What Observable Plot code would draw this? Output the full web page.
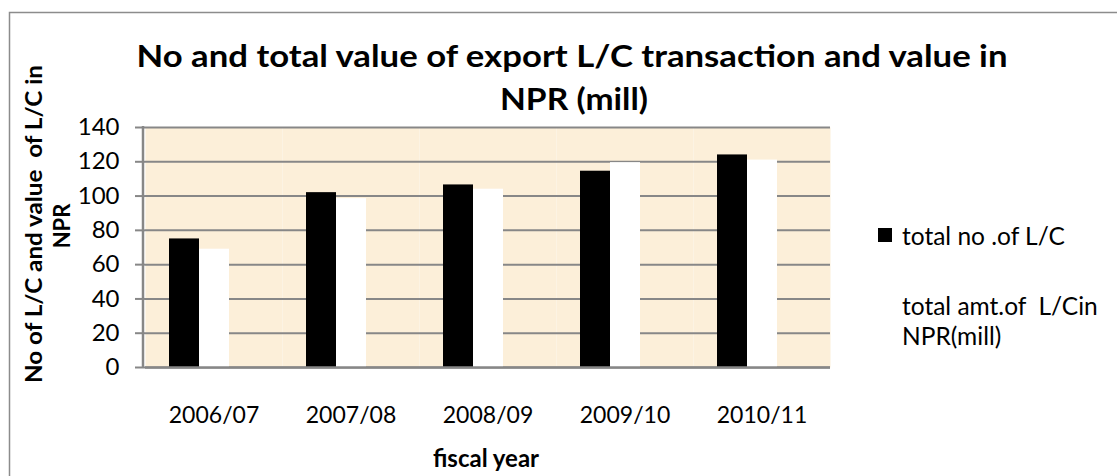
<!DOCTYPE html>
<html><head><meta charset="utf-8">
<script src="https://cdn.jsdelivr.net/npm/d3@7"></script>
<script src="https://cdn.jsdelivr.net/npm/@observablehq/plot@0.6"></script>
<style>
body{margin:0;background:#fff}
#chart{position:relative;width:1117px;height:476px;overflow:hidden;font-family:Lato,sans-serif}
</style>
</head><body><div id="chart"></div>
<script>
// ---- data ----
const years = ["2006/07", "2007/08", "2008/09", "2009/10", "2010/11"];
const totalNo = [75, 102, 106.5, 114.5, 124];
const totalAmt = [69, 98.5, 104, 119.5, 121];
const seriesKeys = ["no", "amt", "blank"];
const seriesLabels = ["total no .of L/C", "total amt.of  L/Cin"];
const seriesLabel2 = "NPR(mill)";
const seriesColors = ["#000000", "#ffffff"];
const yTicks = [0, 20, 40, 60, 80, 100, 120, 140];
const titleLines = ["No and total value of export L/C transaction and value in", "NPR (mill)"];
const yTitleLines = ["No of L/C and value  of L/C in", "NPR"];
const xTitle = "fiscal year";

const data = years.flatMap((y, i) => [
  {year: y, series: "no", value: totalNo[i]},
  {year: y, series: "amt", value: totalAmt[i]}
]);

const W = 1117, H = 476;
const grid = "#878787";

const plot = Plot.plot({
  width: W, height: H,
  marginLeft: 143, marginRight: 285, marginTop: 127, marginBottom: 109,
  style: {background: "transparent", fontFamily: "Lato, sans-serif", color: "#000", overflow: "visible"},
  fx: {domain: years, padding: 0, label: null},
  x: {domain: seriesKeys, paddingInner: 0, paddingOuter: 0.72, axis: null},
  y: {domain: [0, 140], label: null},
  color: {domain: ["no", "amt"], range: seriesColors},
  marks: [
    Plot.frame({fill: "#fcefd9", stroke: null}),
    Plot.gridY(yTicks, {stroke: grid, strokeOpacity: 1, strokeWidth: 2}),
    Plot.axisY(yTicks, {tickSize: 10, tickPadding: 16, stroke: grid, strokeWidth: 2, fill: "#000", fontSize: 24, label: null}),
    Plot.barY(data, {fx: "year", x: "series", y: "value", fill: "series"}),
    Plot.ruleY([0], {stroke: grid, strokeWidth: 2.5}),
    Plot.axisFx({anchor: "bottom", tickSize: 0, tickPadding: 39, fontSize: 23, fill: "#000", label: null})
  ]
});
document.getElementById("chart").appendChild(plot);

const svg = d3.select(plot);
const ys = plot.scale("y");
const y0 = ys.apply(0), yTop = ys.apply(140);

// left axis line
svg.append("line").attr("x1", 143).attr("x2", 143).attr("y1", yTop - 1).attr("y2", y0 + 1)
  .attr("stroke", grid).attr("stroke-width", 2.5);

// outer border
svg.append("rect").attr("x", 9.5).attr("y", 12.5).attr("width", W + 20).attr("height", H + 20)
  .attr("fill", "none").attr("stroke", "#8c8c8c").attr("stroke-width", 1.5);

// title
svg.append("text").attr("x", 572).attr("y", 67).attr("text-anchor", "middle")
  .attr("font-size", 31).attr("font-weight", "bold").attr("textLength", 871).attr("lengthAdjust", "spacingAndGlyphs")
  .text(titleLines[0]);
svg.append("text").attr("x", 574).attr("y", 110).attr("text-anchor", "middle")
  .attr("font-size", 31).attr("font-weight", "bold").attr("textLength", 148).attr("lengthAdjust", "spacingAndGlyphs")
  .text(titleLines[1]);

// y title
svg.append("text").attr("transform", "translate(42,224) rotate(-90)").attr("text-anchor", "middle")
  .attr("font-size", 22).attr("font-weight", "bold").attr("textLength", 318).attr("lengthAdjust", "spacingAndGlyphs")
  .text(yTitleLines[0]);
svg.append("text").attr("transform", "translate(70,226) rotate(-90)").attr("text-anchor", "middle")
  .attr("font-size", 22).attr("font-weight", "bold")
  .text(yTitleLines[1]);

// x title
svg.append("text").attr("x", 486).attr("y", 467).attr("text-anchor", "middle")
  .attr("font-size", 24).attr("font-weight", "bold")
  .text(xTitle);

// legend
const color = plot.scale("color");
const lg = svg.append("g").attr("font-size", 24.5).attr("text-anchor", "start");
lg.append("rect").attr("x", 878).attr("y", 228).attr("width", 14).attr("height", 14).attr("fill", color.apply("no"));
lg.append("text").attr("x", 902).attr("y", 245).text(seriesLabels[0]);
lg.append("rect").attr("x", 878).attr("y", 298).attr("width", 14).attr("height", 14).attr("fill", color.apply("amt"));
lg.append("text").attr("x", 902).attr("y", 315).attr("xml:space", "preserve").style("white-space", "pre").text(seriesLabels[1]);
lg.append("text").attr("x", 902).attr("y", 345).text(seriesLabel2);
</script>
</body></html>
